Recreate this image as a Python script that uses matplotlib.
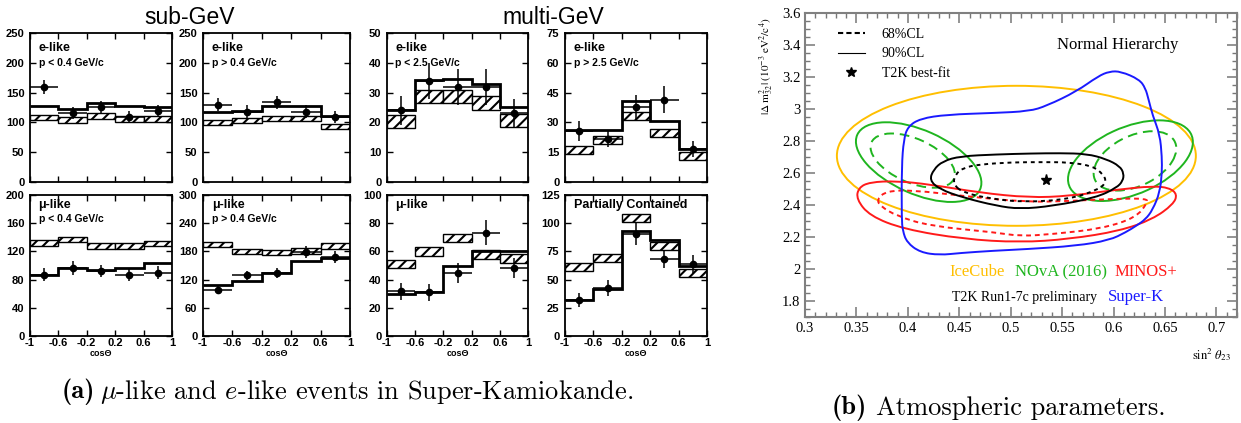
import numpy as np
import matplotlib
matplotlib.use("Agg")
import matplotlib.pyplot as plt
from matplotlib.patches import Ellipse, PathPatch
from matplotlib.path import Path
from matplotlib.lines import Line2D

plt.rcParams['font.family'] = 'Liberation Sans'
plt.rcParams['hatch.linewidth'] = 1.5

W, H = 1241, 423

# ---------------- (a) Super-K zenith angle distributions ----------------
cos_edges = np.array([-1.0, -0.6, -0.2, 0.2, 0.6, 1.0])
cos_centers = np.array([-0.8, -0.4, 0.0, 0.4, 0.8])

panel_names = ["e-like", "e-like", "e-like", "e-like",
               "μ-like", "μ-like", "μ-like", "Partially Contained"]
panel_momenta = ["p < 0.4 GeV/c", "p > 0.4 GeV/c", "p < 2.5 GeV/c", "p > 2.5 GeV/c",
                 "p < 0.4 GeV/c", "p > 0.4 GeV/c", "", ""]
panel_ymax = [250, 250, 50, 75, 200, 300, 100, 125]
panel_ystep = [50, 50, 10, 15, 40, 60, 20, 25]

# observed events
data_counts = [
    [159, 115, 126, 109, 119],
    [130, 118, 134, 118, 109],
    [24, 34, 32, 32, 23],
    [25.6, 21.7, 37.6, 41.5, 16.4],
    [87, 96, 92, 87, 90],
    [98, 129, 134, 179, 168],
    [31.7, 31, 44.8, 73.3, 48],
    [31.8, 42.6, 90.8, 68.5, 64],
]
data_errors = [
    [12, 10, 10, 10, 10],
    [11, 11, 11, 11, 10],
    [5, 6, 6, 6, 5],
    [5, 4, 6, 7, 4],
    [9, 10, 9, 9, 9],
    [9, 10, 11, 12, 12],
    [6, 6, 7, 9, 7],
    [6, 7, 10, 8, 8],
]
# best-fit oscillation prediction
fit_counts = [
    [128, 122, 132, 128, 125],
    [118, 119, 128, 128, 111],
    [24, 34.3, 34.6, 32.8, 25.2],
    [26, 26, 41, 30.5, 16.4],
    [87, 96, 94, 96, 104],
    [108, 118, 134, 160, 167],
    [30, 31.4, 50, 60, 60],
    [32, 42, 93, 85.4, 62],
]
# no-oscillation MC (hatched boxes: centre and half height)
noosc_counts = [
    [108, 104, 111, 106, 106],
    [100, 103, 107, 107, 93],
    [20.3, 28.7, 28.7, 26.5, 20.6],
    [16.2, 21.3, 33.3, 24.8, 13.3],
    [132, 137, 128, 128, 131],
    [195, 180, 178, 181, 192],
    [51, 60, 69.4, 57.7, 55],
    [61, 69.5, 104.5, 79.6, 55.8],
]
noosc_half = [4.5, 4, 2.2, 2.0, 4, 6, 3, 3.5]

# ---------------- (b) atmospheric parameters ----------------
icecube = (0.5055, 2.7075, 0.1745, 0.4375, 0.0)        # cx, cy, half-w, half-h, rho
nova90 = [(0.4105, 2.668, 0.061, 0.249, -0.52), (0.6164, 2.677, 0.0607, 0.252, 0.46)]
nova68 = [(0.4047, 2.6775, 0.041, 0.1695, -0.5), (0.6208, 2.6755, 0.0402, 0.1855, 0.42)]

t2k90_x = [0.421, 0.425, 0.434, 0.451, 0.486, 0.520, 0.548, 0.574, 0.593, 0.606, 0.610,
           0.609, 0.603, 0.583, 0.541, 0.509, 0.486, 0.454, 0.431]
t2k90_y = [2.555, 2.622, 2.674, 2.705, 2.716, 2.722, 2.724, 2.720, 2.687, 2.643, 2.597,
           2.550, 2.508, 2.446, 2.394, 2.375, 2.395, 2.446, 2.498]
t2k68_x = [0.444, 0.446, 0.454, 0.470, 0.502, 0.530, 0.557, 0.580, 0.590, 0.593, 0.586,
           0.557, 0.513, 0.480, 0.454]
t2k68_y = [2.529, 2.591, 2.633, 2.654, 2.667, 2.668, 2.667, 2.643, 2.591, 2.545, 2.498,
           2.436, 2.417, 2.440, 2.477]
t2k_best = (0.534, 2.554)

minos90_x = [0.350, 0.352, 0.363, 0.389, 0.421, 0.470, 0.518, 0.557, 0.606, 0.638, 0.654,
             0.662, 0.658, 0.638, 0.606, 0.557, 0.509, 0.454, 0.396, 0.363]
minos90_y = [2.436, 2.508, 2.543, 2.550, 2.529, 2.477, 2.446, 2.456, 2.498, 2.518, 2.508,
             2.467, 2.404, 2.311, 2.238, 2.187, 2.166, 2.187, 2.249, 2.332]
minos68_x = [0.370, 0.379, 0.405, 0.454, 0.515, 0.557, 0.606, 0.632, 0.633, 0.622, 0.589,
             0.541, 0.509, 0.486, 0.421, 0.389, 0.373]
minos68_y = [2.436, 2.487, 2.493, 2.456, 2.418, 2.425, 2.440, 2.440, 2.415, 2.322, 2.253,
             2.218, 2.205, 2.228, 2.269, 2.332, 2.394]

superk_x = [0.394, 0.394, 0.396, 0.400, 0.412, 0.438, 0.483, 0.518, 0.535, 0.564, 0.585,
            0.596, 0.607, 0.625, 0.631, 0.634, 0.638, 0.645, 0.647, 0.647, 0.645, 0.638,
            0.631, 0.622, 0.612, 0.596, 0.564, 0.515, 0.483, 0.451, 0.431, 0.412, 0.399,
            0.395]
superk_y = [2.31, 2.64, 2.81, 2.89, 2.94, 2.965, 2.975, 2.986, 3.02, 3.11, 3.205,
            3.235, 3.235, 3.185, 3.13, 3.06, 2.96, 2.84, 2.70, 2.60, 2.48, 2.37,
            2.31, 2.27, 2.23, 2.18, 2.145, 2.124, 2.114, 2.10, 2.087, 2.104, 2.166,
            2.24]

C_ICE, C_NOVA, C_MINOS, C_SK = '#ffbf00', '#1fb51f', '#ff1a1a', '#1a1aff'

fig = plt.figure(figsize=(W / 100, H / 100), dpi=100)


def px_axes(l, t, r, b):
    return fig.add_axes([l / W, 1 - b / H, (r - l) / W, (b - t) / H])


col_px = [(30, 172), (203, 350), (387, 528), (565, 707)]
row_px = [(33, 182), (195, 336)]

for i in range(8):
    row, col = divmod(i, 4)
    ax = px_axes(col_px[col][0], row_px[row][0], col_px[col][1], row_px[row][1])
    c = np.array(noosc_counts[i])
    h = noosc_half[i]
    ax.bar(cos_centers, 2 * h, bottom=c - h, width=0.4, facecolor='white',
           edgecolor='k', hatch='///', lw=1.0, zorder=2)
    ax.stairs(fit_counts[i], cos_edges, baseline=None, color='k', lw=2.0, zorder=3)
    ax.errorbar(cos_centers, data_counts[i], yerr=data_errors[i], xerr=0.2, fmt='o',
                color='k', ms=4.5, elinewidth=1.1, capsize=0, zorder=4)
    ax.set_xlim(-1, 1)
    ax.set_ylim(0, panel_ymax[i])
    yt = np.arange(0, panel_ymax[i] + 1, panel_ystep[i])
    ax.set_yticks(yt, labels=[str(v) for v in yt], fontweight='bold', fontsize=8)
    if row == 1:
        ax.set_xticks(cos_edges, labels=['%g' % v for v in cos_edges],
                      fontweight='bold', fontsize=8)
        ax.set_xlabel("cosΘ", fontweight='bold', fontsize=6.5, labelpad=1)
    else:
        ax.set_xticks(cos_edges, labels=[])
    ax.tick_params(direction='in', top=True, right=True, length=4, width=1, pad=1.5)
    ax.tick_params(axis='y', pad=4)
    for s in ax.spines.values():
        s.set_linewidth(1.3)
    ny = 0.9 if row == 0 else 0.93
    ax.text(0.06, ny, panel_names[i], transform=ax.transAxes, fontsize=9,
            fontweight='bold', va='center')
    if panel_momenta[i]:
        ax.text(0.06, ny - 0.1, panel_momenta[i], transform=ax.transAxes, fontsize=7.5,
                fontweight='bold', va='center')

fig.text(190 / W, 1 - 17 / H, "sub-GeV", ha='center', va='center', fontsize=16.5)
fig.text(553 / W, 1 - 17 / H, "multi-GeV", ha='center', va='center', fontsize=16.5)

# ---------------- (b) ----------------
ax = px_axes(805, 13, 1237, 317)
ax.set_xlim(0.3, 0.72)
ax.set_ylim(1.7, 3.6)


def ellipse(p, **kw):
    cx, cy, hw, hh, rho = p
    cov = np.array([[hw ** 2, rho * hw * hh], [rho * hw * hh, hh ** 2]])
    vals, vecs = np.linalg.eigh(cov)
    ang = np.degrees(np.arctan2(vecs[1, 1], vecs[0, 1]))
    return Ellipse((cx, cy), 2 * np.sqrt(vals[1]), 2 * np.sqrt(vals[0]), angle=ang,
                   fill=False, **kw)


def smooth_path(xs, ys):
    pts = np.column_stack([xs, ys])
    mids = (pts + np.roll(pts, -1, axis=0)) / 2
    verts = [mids[-1]]
    codes = [Path.MOVETO]
    for k in range(len(pts)):
        verts += [pts[k], mids[k]]
        codes += [Path.CURVE3, Path.CURVE3]
    return Path(verts, codes)


lw = 1.4
ax.add_patch(ellipse(icecube, ec=C_ICE, lw=lw))
for p in nova90:
    ax.add_patch(ellipse(p, ec=C_NOVA, lw=lw))
for p in nova68:
    ax.add_patch(ellipse(p, ec=C_NOVA, lw=lw, ls=(0, (5, 3))))
ax.add_patch(PathPatch(smooth_path(minos90_x, minos90_y), fill=False, ec=C_MINOS, lw=lw))
ax.add_patch(PathPatch(smooth_path(minos68_x, minos68_y), fill=False, ec=C_MINOS, lw=lw,
                       ls=(0, (2.5, 2))))
ax.add_patch(PathPatch(smooth_path(superk_x, superk_y), fill=False, ec=C_SK, lw=lw))
ax.add_patch(PathPatch(smooth_path(t2k90_x, t2k90_y), fill=False, ec='k', lw=lw))
ax.add_patch(PathPatch(smooth_path(t2k68_x, t2k68_y), fill=False, ec='k', lw=lw,
                       ls=(0, (2, 2))))
ax.plot(*t2k_best, marker='*', ms=8, color='k', ls='none')

serif = 'Liberation Serif'
xt = np.arange(0.3, 0.701, 0.05)
yt = np.arange(1.8, 3.601, 0.2)
ax.set_xticks(xt, labels=['%g' % round(v, 2) for v in xt], fontfamily=serif, fontsize=10.5)
ax.set_yticks(yt, labels=['%g' % round(v, 1) for v in yt], fontfamily=serif, fontsize=10.5)
ax.xaxis.set_minor_locator(matplotlib.ticker.MultipleLocator(0.01))
ax.yaxis.set_minor_locator(matplotlib.ticker.MultipleLocator(0.05))
ax.tick_params(which='both', direction='in', top=True, right=True, color='#777777')
ax.tick_params(which='major', length=7, width=1.1)
ax.tick_params(which='minor', length=3.5, width=1.0)
for s in ax.spines.values():
    s.set_color('#808080')
    s.set_linewidth(1.5)

ax.text(-0.087, 0.826, r"$|\Delta\ \mathrm{m}^2_{32}|\ (10^{-3}\ \mathrm{eV}^2/\mathrm{c}^4)$",
        rotation=90, transform=ax.transAxes, ha='center', va='center', fontsize=8,
        math_fontfamily='stix')
ax.text(0.942, -0.125, r"$\mathrm{sin}^2\ \theta_{23}$", transform=ax.transAxes,
        ha='center', va='center', fontsize=9, math_fontfamily='stix')

handles = [Line2D([], [], color='k', ls=(0, (2.5, 1.5)), lw=1.5),
           Line2D([], [], color='k', lw=0.8),
           Line2D([], [], color='k', marker='*', ls='none', ms=7)]
ax.legend(handles, ["68%CL", "90%CL", "T2K best-fit"], loc='upper left',
          bbox_to_anchor=(0.076, 0.95), frameon=False, borderpad=0, borderaxespad=0,
          handlelength=1.95, handletextpad=1.2, labelspacing=0.45,
          prop={'family': serif, 'size': 10})
ax.text(0.604, 3.40, "Normal Hierarchy", ha='center', va='center', fontfamily=serif,
        fontsize=12)
ax.text(0.4408, 1.981, "IceCube", color=C_ICE, fontfamily=serif, fontsize=12, va='center')
ax.text(0.5039, 1.981, "NOvA (2016)", color=C_NOVA, fontfamily=serif, fontsize=12, va='center')
ax.text(0.601, 1.981, "MINOS+", color=C_MINOS, fontfamily=serif, fontsize=12, va='center')
ax.text(0.4427, 1.825, "T2K Run1-7c preliminary", color='k', fontfamily=serif, fontsize=10,
        va='center')
ax.text(0.5942, 1.825, "Super-K", color=C_SK, fontfamily=serif, fontsize=12, va='center')

# captions
fig.text(62 / W, 1 - 392 / H, "(a)", family='cmb10', fontsize=19, va='center')
fig.text(100 / W, 1 - 392 / H, r"$\mu$-like and $e$-like events in Super-Kamiokande.",
         family='cmr10', math_fontfamily='cm', fontsize=19, va='center')
fig.text(832 / W, 1 - 408 / H, "(b)", family='cmb10', fontsize=19, va='center')
fig.text(876 / W, 1 - 408 / H, "Atmospheric parameters.", family='cmr10', fontsize=19,
         va='center')

fig.savefig("out.png", dpi=100)
